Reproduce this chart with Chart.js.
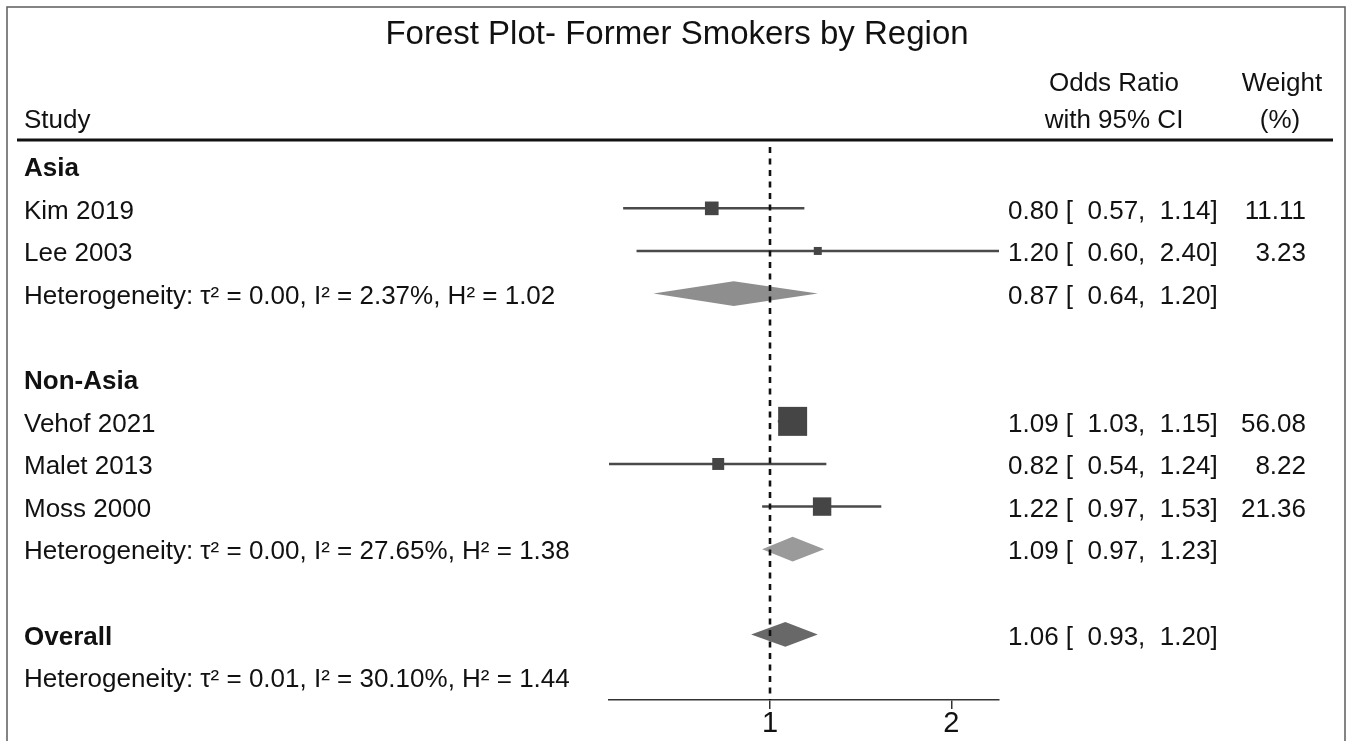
<!DOCTYPE html>
<html><head><meta charset="utf-8">
<script src="https://cdn.jsdelivr.net/npm/chart.js@4.4.1/dist/chart.umd.min.js"></script>
<style>html,body{margin:0;padding:0;background:#fff;overflow:hidden}#wrap{width:1346px;height:741px;position:relative}canvas{display:block}</style>
</head><body><div id="wrap"><canvas id="c" width="1346" height="741"></canvas></div>
<script>
// ---------- data ----------
const chartTitle = 'Forest Plot- Former Smokers by Region';
const headerStudy = 'Study';
const headerOR = ['Odds Ratio', 'with 95% CI'];
const headerWeight = ['Weight', '(%)'];

const groupNames = ['Asia', 'Non-Asia', 'Overall'];
const groupRows = [0, 5, 11];

const studyNames = ['Kim 2019', 'Lee 2003', 'Vehof 2021', 'Malet 2013', 'Moss 2000'];
const studyRows = [1, 2, 6, 7, 8];
const studyOR = [0.80, 1.20, 1.09, 0.82, 1.22];
const studyLo = [0.57, 0.60, 1.03, 0.54, 0.97];
const studyHi = [1.14, 2.40, 1.15, 1.24, 1.53];
const studyWeight = [11.11, 3.23, 56.08, 8.22, 21.36];

const pooledRows = [3, 9, 11];
const pooledOR = [0.87, 1.09, 1.06];
const pooledLo = [0.64, 0.97, 0.93];
const pooledHi = [1.20, 1.23, 1.20];

const hetRows = [3, 9, 12];
const hetTau2 = ['0.00', '0.00', '0.01'];
const hetI2 = ['2.37', '27.65', '30.10'];
const hetH2 = ['1.02', '1.38', '1.44'];

const xTickValues = [1, 2];
const xMin = 0.54, xMax = 2.40;
const rowMin = -0.44, rowMax = 12.54;

// ---------- styles ----------
const FONT = '"Liberation Sans", Arial, Helvetica, sans-serif';
const diamondColors = ['#8e8e8e', '#9a9a9a', '#686868'];
const squareSide = w => 1.36 + 3.69 * Math.sqrt(w);
const TEXT_DY = 3;

const fmt = v => v.toFixed(2);

const forestPlugin = {
  id: 'forest',
  beforeDatasetsDraw(chart) {
    const {ctx, scales: {x, y}} = chart;
    ctx.save();
    ctx.strokeStyle = '#4a4a4a';
    ctx.lineWidth = 2.5;
    studyNames.forEach((n, i) => {
      const py = y.getPixelForValue(studyRows[i]);
      ctx.beginPath();
      ctx.moveTo(x.getPixelForValue(studyLo[i]), py);
      ctx.lineTo(x.getPixelForValue(studyHi[i]), py);
      ctx.stroke();
    });
    pooledOR.forEach((v, i) => {
      const py = y.getPixelForValue(pooledRows[i]);
      const h = Math.abs(y.getPixelForValue(pooledRows[i] + 0.29) - py);
      ctx.fillStyle = diamondColors[i];
      ctx.beginPath();
      ctx.moveTo(x.getPixelForValue(pooledLo[i]), py);
      ctx.lineTo(x.getPixelForValue(v), py - h);
      ctx.lineTo(x.getPixelForValue(pooledHi[i]), py);
      ctx.lineTo(x.getPixelForValue(v), py + h);
      ctx.closePath();
      ctx.fill();
    });
    ctx.restore();
  },
  afterDatasetsDraw(chart) {
    const {ctx, chartArea, scales: {x}} = chart;
    const px = Math.round(x.getPixelForValue(1));
    ctx.save();
    ctx.strokeStyle = '#111';
    ctx.lineWidth = 2.6;
    ctx.setLineDash([6, 5.5]);
    ctx.beginPath();
    ctx.moveTo(px, chartArea.top);
    ctx.lineTo(px, chartArea.bottom);
    ctx.stroke();
    ctx.restore();
  },
  afterDraw(chart) {
    const {ctx, scales: {y}} = chart;
    const ry = r => y.getPixelForValue(r) + TEXT_DY;
    ctx.save();
    // frame
    ctx.strokeStyle = '#666';
    ctx.lineWidth = 1.6;
    ctx.strokeRect(7, 7, 1338, 760);
    // header rule
    ctx.strokeStyle = '#111';
    ctx.lineWidth = 3;
    ctx.beginPath(); ctx.moveTo(17, 140); ctx.lineTo(1333, 140); ctx.stroke();

    ctx.fillStyle = '#111';
    ctx.textBaseline = 'middle';
    // title
    ctx.font = '33px ' + FONT;
    ctx.textAlign = 'center';
    ctx.fillText(chartTitle, 677, 35);
    // headers
    ctx.font = '26px ' + FONT;
    ctx.fillText(headerOR[0], 1114, 84);
    ctx.fillText(headerOR[1], 1114, 121);
    ctx.fillText(headerWeight[0], 1282, 84);
    ctx.fillText(headerWeight[1], 1280, 121);
    ctx.textAlign = 'left';
    ctx.fillText(headerStudy, 24, 121);

    // group names
    ctx.font = 'bold 26px ' + FONT;
    groupNames.forEach((g, i) => ctx.fillText(g, 24, ry(groupRows[i])));
    ctx.font = '26px ' + FONT;
    // studies
    studyNames.forEach((s, i) => {
      const py = ry(studyRows[i]);
      ctx.textAlign = 'left';
      ctx.fillText(s, 24, py);
      ctx.fillText(`${fmt(studyOR[i])} [  ${fmt(studyLo[i])},  ${fmt(studyHi[i])}]`, 1008, py);
      ctx.textAlign = 'right';
      ctx.fillText(fmt(studyWeight[i]), 1306, py);
    });
    // pooled
    ctx.textAlign = 'left';
    pooledOR.forEach((v, i) => {
      ctx.fillText(`${fmt(v)} [  ${fmt(pooledLo[i])},  ${fmt(pooledHi[i])}]`, 1008, ry(pooledRows[i]));
    });
    // heterogeneity
    hetRows.forEach((r, i) => {
      ctx.fillText(`Heterogeneity: \u03C4\u00B2 = ${hetTau2[i]}, I\u00B2 = ${hetI2[i]}%, H\u00B2 = ${hetH2[i]}`, 24, ry(r));
    });
    ctx.restore();
  }
};

new Chart(document.getElementById('c'), {
  type: 'scatter',
  data: {
    datasets: [{
      data: studyNames.map((n, i) => ({x: studyOR[i], y: studyRows[i]})),
      pointStyle: 'rect',
      pointRadius: studyWeight.map(w => squareSide(w) / Math.SQRT2),
      pointHoverRadius: studyWeight.map(w => squareSide(w) / Math.SQRT2),
      backgroundColor: '#454545',
      borderWidth: 0
    }]
  },
  options: {
    responsive: false,
    animation: false,
    events: [],
    layout: {padding: {left: 609, right: 347, top: 147, bottom: 3}},
    plugins: {legend: {display: false}, tooltip: {enabled: false}, title: {display: false}},
    scales: {
      x: {
        type: 'logarithmic',
        min: xMin, max: xMax,
        bounds: 'data',
        afterBuildTicks: s => { s.ticks = xTickValues.map(v => ({value: v})); },
        grid: {display: true, drawOnChartArea: false, drawTicks: true, tickLength: 9, color: '#333', lineWidth: 1.5},
        border: {display: true, color: '#333', width: 1.5},
        ticks: {
          padding: 0,
          color: '#111',
          font: {family: FONT, size: 29, lineHeight: 1},
          callback: v => String(v),
          maxRotation: 0, autoSkip: false
        }
      },
      y: {
        type: 'linear', display: false, reverse: true,
        min: rowMin, max: rowMax
      }
    }
  },
  plugins: [forestPlugin]
});
</script>
</body></html>
